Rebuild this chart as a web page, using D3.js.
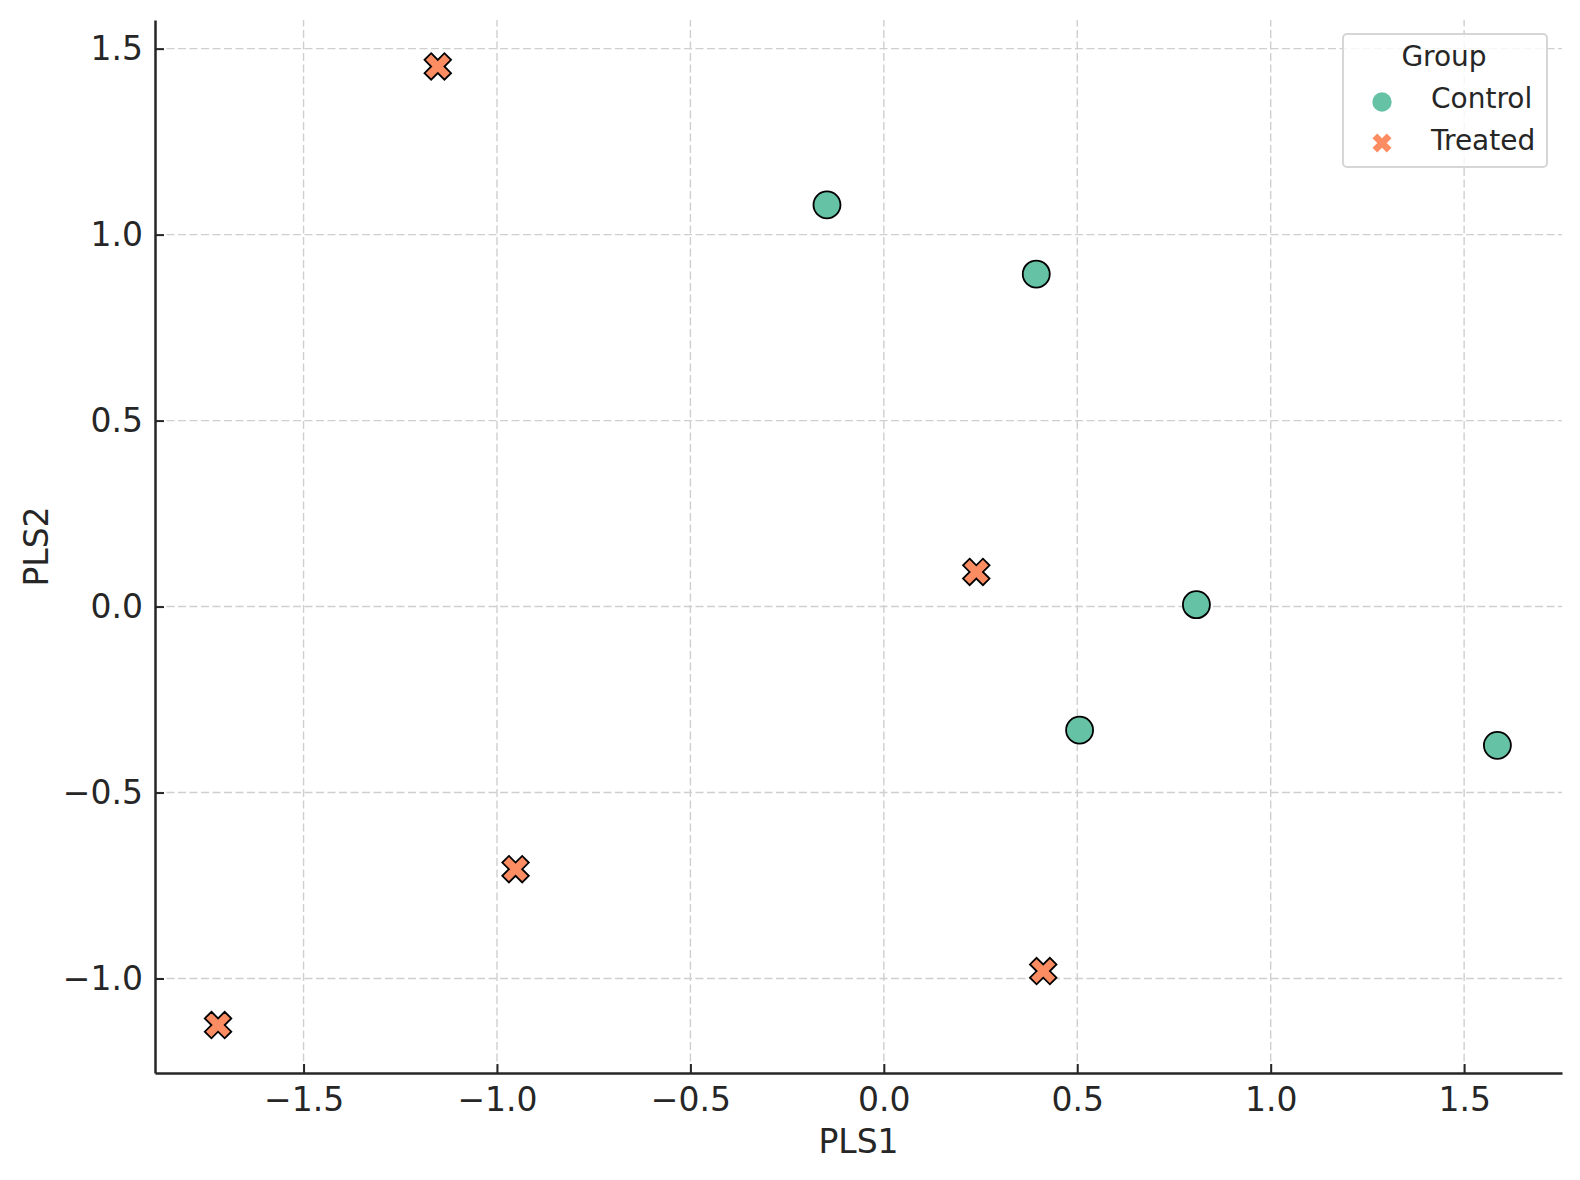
<!DOCTYPE html>
<html>
<head>
<meta charset="utf-8">
<script src="https://cdn.jsdelivr.net/npm/d3@7"></script>
<style>
	html, body { margin: 0; padding: 0; background: #fff; }
	svg { display: block; font-family: "DejaVu Sans", sans-serif; }
	.tick text { fill: #262626; font-size: 33px; }
	.axis-label { fill: #262626; font-size: 33px; }
	.legend text { fill: #262626; font-size: 28px; }
</style>
</head>
<body>
<div id="chart"></div>
<script>
// data
const groups = ['Control', 'Treated'];
const colours = ['#66c2a5', '#fc8d62'];
const controlX = [-0.147, 0.394, 0.808, 0.506, 1.586];
const controlY = [1.080, 0.894, 0.005, -0.332, -0.373];
const treatedX = [-1.153, 0.239, -0.952, 0.412, -1.721];
const treatedY = [1.452, 0.093, -0.706, -0.980, -1.125];
const xTicks = [-1.5, -1.0, -0.5, 0.0, 0.5, 1.0, 1.5];
const yTicks = [-1.0, -0.5, 0.0, 0.5, 1.0, 1.5];
const xDomain = [-1.884, 1.753];
const yDomain = [-1.254, 1.577];

const width = 1580;
const height = 1180;
const margin = { top: 20, right: 18, bottom: 107, left: 155 };

const svg = d3.select('#chart')
	.append('svg')
	.attr('width', width)
	.attr('height', height);

const x = d3.scaleLinear()
	.domain(xDomain)
	.range([margin.left, width - margin.right]);

const y = d3.scaleLinear()
	.domain(yDomain)
	.range([height - margin.bottom, margin.top]);

const fmt = d3.format('.1f');

// gridlines
svg.append('g')
	.attr('class', 'grid')
	.selectAll('line.gx')
	.data(xTicks)
	.join('line')
	.attr('x1', d => x(d)).attr('x2', d => x(d))
	.attr('y1', y.range()[0]).attr('y2', y.range()[1]);

svg.select('.grid')
	.selectAll('line.gy')
	.data(yTicks)
	.join('line')
	.attr('class', 'gy')
	.attr('x1', x.range()[0]).attr('x2', x.range()[1])
	.attr('y1', d => y(d)).attr('y2', d => y(d));

svg.selectAll('.grid line')
	.attr('stroke', '#cfcfcf')
	.attr('stroke-width', 1.4)
	.attr('stroke-dasharray', '8,3.5');

// axes, ticks pointing inward
const xAxis = g => {
	g.attr('transform', `translate(0, ${height - margin.bottom})`)
		.call(d3.axisBottom(x)
			.tickValues(xTicks)
			.tickFormat(fmt)
			.tickSizeInner(-9)
			.tickSizeOuter(0)
			.tickPadding(15)
		);
	g.selectAll('.tick text').attr('dy', '0.71em');
};

const yAxis = g => {
	g.attr('transform', `translate(${margin.left}, 0)`)
		.call(d3.axisLeft(y)
			.tickValues(yTicks)
			.tickFormat(fmt)
			.tickSizeInner(-9)
			.tickSizeOuter(0)
			.tickPadding(12)
		);
};

svg.append('g').call(xAxis);
svg.append('g').call(yAxis);

svg.selectAll('.domain')
	.attr('stroke', '#262626')
	.attr('stroke-width', 2.5);
svg.selectAll('.tick line')
	.attr('stroke', '#262626')
	.attr('stroke-width', 2);
svg.selectAll('.tick text').attr('font-family', 'DejaVu Sans');

// axis labels
svg.append('text')
	.attr('class', 'axis-label')
	.attr('text-anchor', 'middle')
	.attr('x', (x.range()[0] + x.range()[1]) / 2)
	.attr('y', 1153)
	.text('PLS1');

svg.append('text')
	.attr('class', 'axis-label')
	.attr('text-anchor', 'middle')
	.attr('transform', `translate(48, ${(y.range()[0] + y.range()[1]) / 2}) rotate(-90)`)
	.text('PLS2');

// marks
const cross = d3.symbol().type(d3.symbolCross);

const control = controlX.map((v, i) => ({ x: v, y: controlY[i] }));
const treated = treatedX.map((v, i) => ({ x: v, y: treatedY[i] }));

svg.append('g')
	.selectAll('circle')
	.data(control)
	.join('circle')
	.attr('cx', d => x(d.x))
	.attr('cy', d => y(d.y))
	.attr('r', 13.5)
	.attr('fill', colours[0])
	.attr('stroke', '#000')
	.attr('stroke-width', 1.8);

svg.append('g')
	.selectAll('path')
	.data(treated)
	.join('path')
	.attr('transform', d => `translate(${x(d.x)}, ${y(d.y)}) rotate(45)`)
	.attr('d', cross.size(440)())
	.attr('fill', colours[1])
	.attr('stroke', '#000')
	.attr('stroke-width', 1.8)
	.attr('stroke-linejoin', 'miter');

// legend
const legend = svg.append('g').attr('class', 'legend');

legend.append('rect')
	.attr('x', 1343)
	.attr('y', 34)
	.attr('width', 204)
	.attr('height', 133)
	.attr('rx', 4)
	.attr('fill', '#fff')
	.attr('fill-opacity', 0.8)
	.attr('stroke', '#d6d6d6')
	.attr('stroke-width', 2);

legend.append('text')
	.attr('x', 1444)
	.attr('y', 66)
	.attr('text-anchor', 'middle')
	.text('Group');

groups.forEach((name, i) => {
	const cy = 102 + i * 41;
	if (i === 0) {
		legend.append('circle')
			.attr('cx', 1382)
			.attr('cy', cy)
			.attr('r', 9.7)
			.attr('fill', colours[i]);
	} else {
		legend.append('path')
			.attr('transform', `translate(1382, ${cy}) rotate(45)`)
			.attr('d', cross.size(226)())
			.attr('fill', colours[i]);
	}
	legend.append('text')
		.attr('x', 1431)
		.attr('y', cy + 6 + (i === 0 ? 0 : 1))
		.text(name);
});
</script>
</body>
</html>
